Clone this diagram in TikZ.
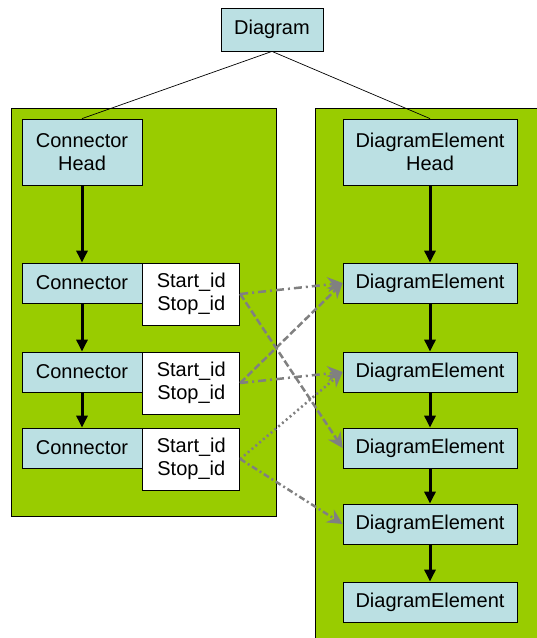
\documentclass[tikz,border=0pt]{standalone}
\usepackage{fontspec}
\setmainfont{Liberation Sans}
\usetikzlibrary{positioning,arrows.meta}
\definecolor{panelgreen}{HTML}{99CC00}
\definecolor{boxblue}{HTML}{BBE0E3}
\definecolor{linkgray}{HTML}{808080}

\begin{document}
\begin{tikzpicture}[x=1pt, y=-1pt,
  every node/.style={font=\fontsize{20}{23}\selectfont, inner sep=0pt},
  panel/.style={draw, line width=0.8pt, fill=panelgreen, anchor=north west},
  box/.style={draw, line width=0.8pt, fill=boxblue, align=center, minimum height=40pt},
  idbox/.style={draw, line width=0.8pt, fill=white, align=center, anchor=north west, minimum width=97pt, minimum height=62pt},
  chain/.style={-{Triangle[length=12pt,width=11pt]}, line width=3pt},
  link/.style={-{Stealth[length=15pt,width=15pt,inset=5pt]}, line width=2.5pt, linkgray},
  dashdot/.style={dash pattern=on 8pt off 4pt on 2pt off 4pt}]
  \clip (0,0) rectangle (537,638);
  \node[panel, minimum width=265pt, minimum height=408pt] (conpanel) at (11,108) {};
  \node[panel, minimum width=240pt, minimum height=540pt] (elpanel) at (315,108) {};
  \node[box, minimum width=102pt, minimum height=43pt] (diagram) at (272,29.5) {Diagram};
  % connector list
  \node[box, minimum width=120pt, minimum height=66pt] (chead) at (82,152) {Connector\\Head};
  \node[box, minimum width=120pt] (con1) at (82,283) {Connector};
  \node[box, minimum width=120pt] (con2) at (82,372) {Connector};
  \node[box, minimum width=120pt] (con3) at (82,448) {Connector};
  \node[idbox] (ids1) at (con1.north east) {Start\_id\\Stop\_id};
  \node[idbox] (ids2) at (con2.north east) {Start\_id\\Stop\_id};
  \node[idbox] (ids3) at (con3.north east) {Start\_id\\Stop\_id};
  % element list
  \node[box, minimum width=174pt, minimum height=66pt] (dhead) at (430,152) {DiagramElement\\Head};
  \node[box, minimum width=174pt] (el1) at (430,283) {DiagramElement};
  \node[box, minimum width=174pt] (el2) at (430,372) {DiagramElement};
  \node[box, minimum width=174pt] (el3) at (430,448) {DiagramElement};
  \node[box, minimum width=174pt] (el4) at (430,524) {DiagramElement};
  \node[box, minimum width=174pt] (el5) at (430,602) {DiagramElement};
  \draw[line width=0.7pt] (diagram.south) -- (chead.north);
  \draw[line width=0.7pt] (diagram.south) -- (dhead.north);
  \draw[chain] (chead) -- (con1);
  \draw[chain] (con1) -- (con2);
  \draw[chain] (con2) -- (con3);
  \draw[chain] (dhead) -- (el1);
  \draw[chain] (el1) -- (el2);
  \draw[chain] (el2) -- (el3);
  \draw[chain] (el3) -- (el4);
  \draw[chain] (el4) -- (el5);
  % id links
  \draw[link, dashdot] (ids1.east) -- (el1.west);
  \draw[link, dash pattern=on 7pt off 3pt] (ids1.east) -- (el3.west);
  \draw[link, dash pattern=on 7pt off 3pt] (ids2.east) -- (el1.west);
  \draw[link, dashdot] (ids2.east) -- (el2.west);
  \draw[link, dash pattern=on 2pt off 3pt] (ids3.east) -- (el2.west);
  \draw[link, dash pattern=on 6pt off 3pt on 2pt off 3pt] (ids3.east) -- (el4.west);
\end{tikzpicture}
\end{document}
